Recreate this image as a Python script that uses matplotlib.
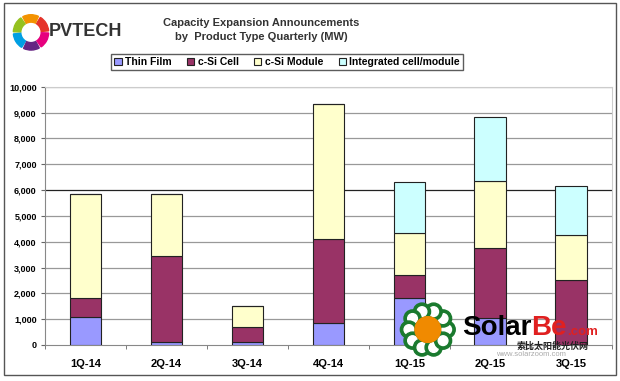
import numpy as np
import matplotlib.pyplot as plt
from matplotlib.patches import Rectangle, Wedge, Circle
from matplotlib.ticker import FuncFormatter

plt.rcParams['font.family'] = ['Liberation Sans', 'DejaVu Sans']

quarters = ['1Q-14', '2Q-14', '3Q-14', '4Q-14', '1Q-15', '2Q-15', '3Q-15']
thin_film = [1070, 130, 100, 840, 1830, 1050, 0]
csi_cell = [760, 3320, 590, 3270, 880, 2720, 2520]
csi_module = [4010, 2390, 820, 5220, 1640, 2560, 1740]
integrated = [0, 0, 0, 0, 1960, 2500, 1880]

series = [('Thin Film', thin_film, '#9999FF'),
          ('c-Si Cell', csi_cell, '#993366'),
          ('c-Si Module', csi_module, '#FFFFCC'),
          ('Integrated cell/module', integrated, '#CCFFFF')]

fig = plt.figure(figsize=(6.2, 3.81), dpi=100)
fig.patches.append(Rectangle((0.006, 0.016), 0.988, 0.976, transform=fig.transFigure,
                             fill=False, edgecolor='#555555', lw=1.0))

ax = fig.add_axes([0.0726, 0.0945, 0.914, 0.678])
x = np.arange(len(quarters))
bottom = np.zeros(len(quarters))
handles = []
for name, vals, col in series:
    vals = np.array(vals, dtype=float)
    b = ax.bar(x, vals, 0.39, bottom=bottom, color=col, edgecolor='#222222', lw=0.8,
               label=name, zorder=3)
    handles.append(b)
    bottom += vals

ax.set_xlim(-0.5, len(quarters) - 0.5)
ax.set_ylim(0, 10000)
ax.set_yticks(np.arange(0, 10001, 1000))
ax.yaxis.set_major_formatter(FuncFormatter(lambda v, p: f'{int(v):,}'))
for v in range(1000, 10001, 1000):
    ax.axhline(v, color='#222222' if v == 6000 else '#999999', lw=0.9, zorder=1)
ax.set_xticks(x)
ax.set_xticklabels(quarters, fontsize=8, fontweight='bold')
ax.set_xticks(np.arange(-0.5, len(quarters), 1), minor=True)
ax.tick_params(axis='x', which='major', length=0, pad=10)
ax.tick_params(axis='x', which='minor', length=3, color='#666666')
ax.tick_params(axis='y', labelsize=6.5, length=3, color='#666666', pad=3)
for lbl in ax.get_yticklabels():
    lbl.set_fontweight('bold')
ax.spines['left'].set_color('#888888')
ax.spines['bottom'].set_color('#888888')
ax.spines['top'].set_color('#cccccc')
ax.spines['right'].set_color('#cccccc')

fig.text(0.421, 0.940, 'Capacity Expansion Announcements', ha='center', va='center',
         fontsize=8, fontweight='bold', color='#333333')
fig.text(0.421, 0.904, 'by  Product Type Quarterly (MW)', ha='center', va='center',
         fontsize=8, fontweight='bold', color='#333333')

leg = fig.legend(handles=handles, loc='center', bbox_to_anchor=(0.463, 0.837), ncol=4,
                 fontsize=7.5, frameon=True, fancybox=False, edgecolor='#333333',
                 handlelength=0.7, handleheight=0.7, handletextpad=0.3, columnspacing=1.5,
                 borderpad=0.3)
for t in leg.get_texts():
    t.set_fontweight('bold')

# PVTECH logo
lax = fig.add_axes([0.02, 0.86, 0.06, 0.11])
lax.set_xlim(-1, 1)
lax.set_ylim(-1, 1)
lax.set_aspect('equal')
lax.axis('off')
ring_cols = ['#e5332a', '#f39200', '#95c11f', '#009fe3', '#662483', '#e6007e']
for i, c in enumerate(ring_cols):
    lax.add_patch(Wedge((0, 0), 0.95, i * 60 + 5, i * 60 + 58, width=0.4, color=c))
fig.text(0.078, 0.918, 'PVTECH', ha='left', va='center', fontsize=13,
         fontweight='bold', color='#333333')

# SolarBe watermark
wax = fig.add_axes([0.64, 0.06, 0.1, 0.15])
wax.set_xlim(-1, 1)
wax.set_ylim(-1, 1)
wax.set_aspect('equal')
wax.axis('off')
for a in np.arange(0, 360, 36):
    r = np.deg2rad(a)
    wax.add_patch(Circle((0.66 * np.cos(r), 0.66 * np.sin(r)), 0.3, color='#1a7a2e'))
    wax.add_patch(Circle((0.66 * np.cos(r), 0.66 * np.sin(r)), 0.17, color='white'))
wax.add_patch(Circle((0, 0), 0.45, color='#f08a00'))

fig.canvas.draw()
rend = fig.canvas.get_renderer()
t1 = fig.text(0.745, 0.122, 'Solar', fontsize=20, fontweight='bold', color='black',
              va='baseline')
bb = t1.get_window_extent(rend).transformed(fig.transFigure.inverted())
t2 = fig.text(bb.x1, 0.122, 'Be', fontsize=20, fontweight='bold', color='#e02020',
              va='baseline')
bb2 = t2.get_window_extent(rend).transformed(fig.transFigure.inverted())
fig.text(bb2.x1, 0.122, '.com', fontsize=9.5, fontweight='bold', color='#e02020',
         va='baseline')
fig.text(0.834, 0.092, '索比太阳能光伏网', fontsize=6.5, fontweight='bold', color='#222222',
         va='center', family=['Noto Sans CJK SC', 'DejaVu Sans'])
fig.text(0.8, 0.07, 'www.solarzoom.com', fontsize=5.5, color='#aaaaaa', va='center')

fig.savefig('out.png', dpi=100)
